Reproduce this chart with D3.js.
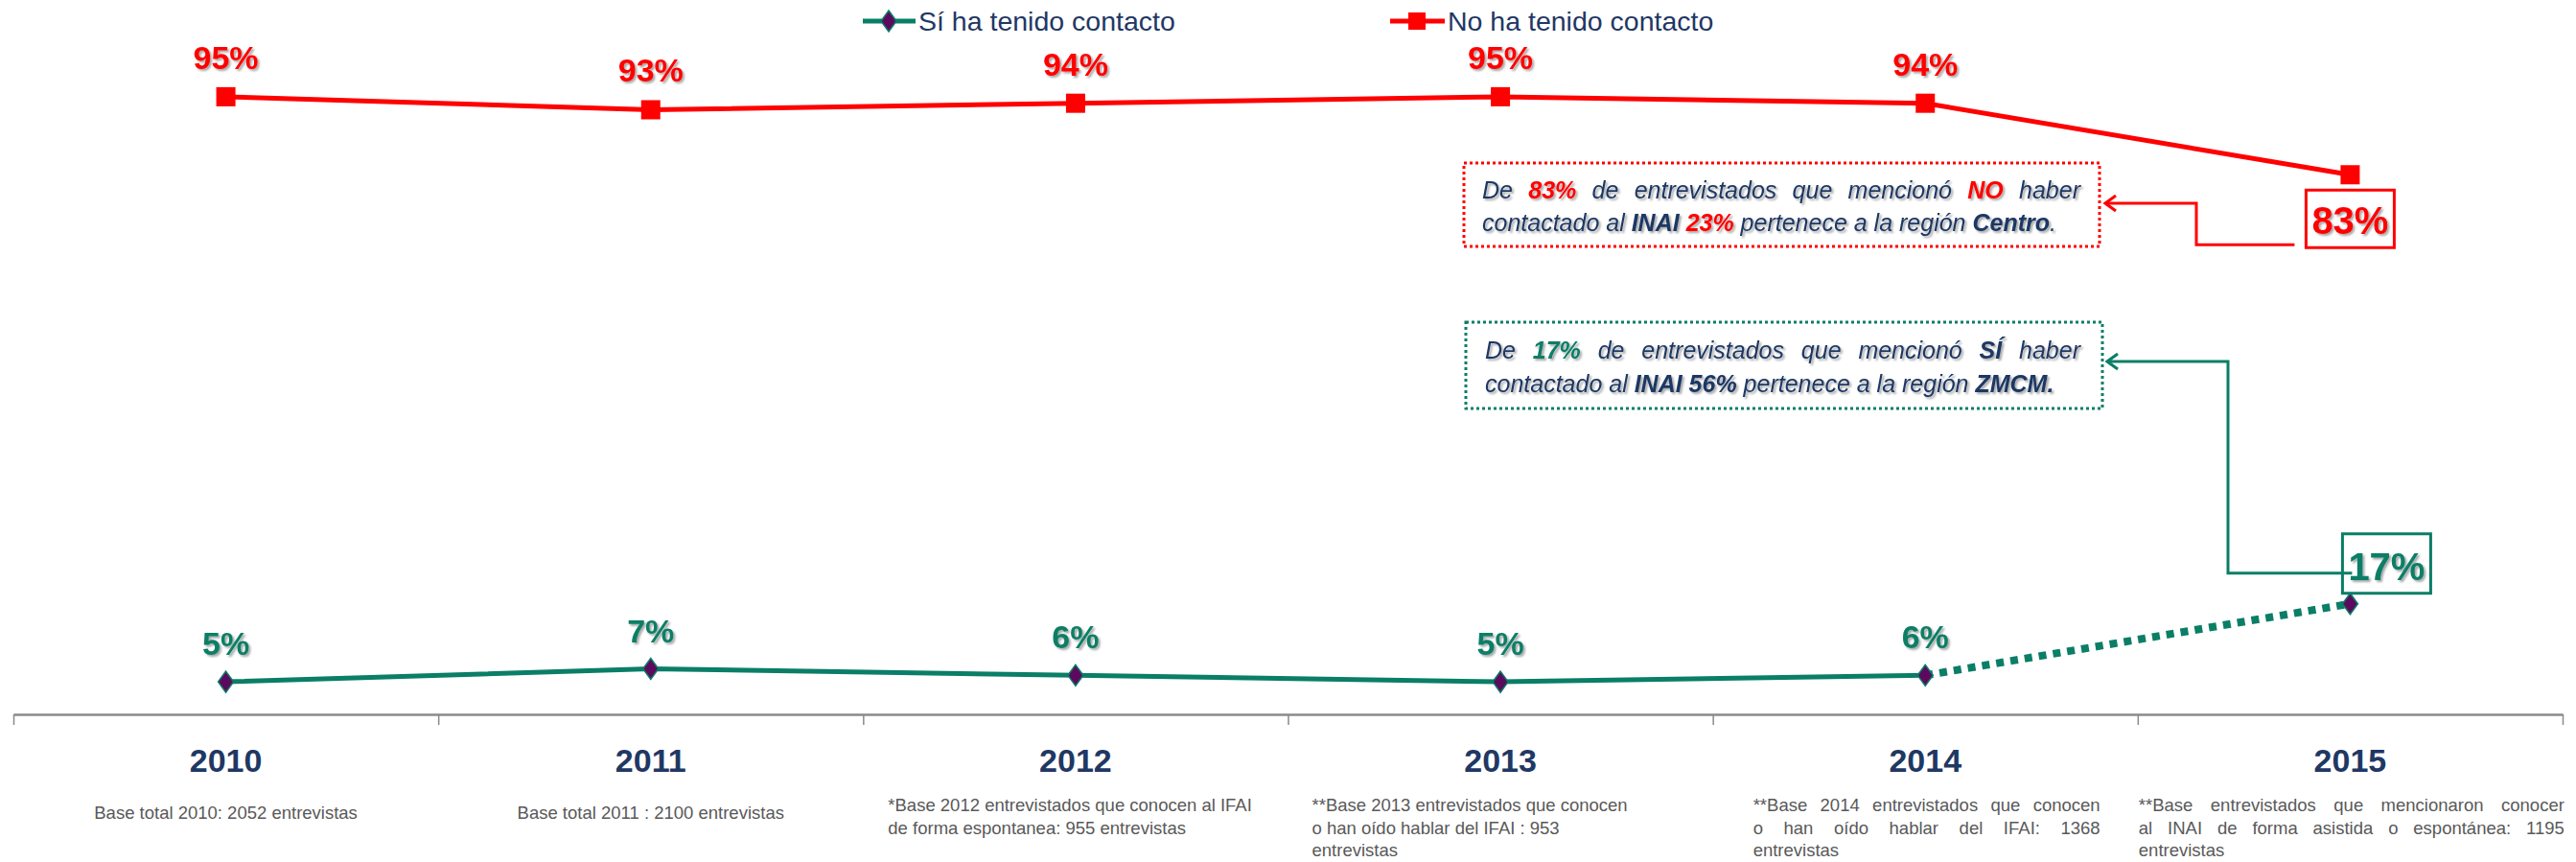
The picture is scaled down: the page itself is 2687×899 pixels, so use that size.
<!DOCTYPE html>
<html>
<head>
<meta charset="utf-8">
<script src="https://cdn.jsdelivr.net/npm/d3@7"></script>
<style>
html, body { margin: 0; padding: 0; background: #fff; }
svg { display: block; font-family: "Liberation Sans", Arial, sans-serif; }
</style>
</head>
<body>
<div id="visual"></div>
<script>

///// DATA /////
var years = ["2010", "2011", "2012", "2013", "2014", "2015"];
var siContacto = [5, 7, 6, 5, 6, 17];
var noContacto = [95, 93, 94, 95, 94, 83];
var seriesNames = ["Sí ha tenido contacto", "No ha tenido contacto"];

var baseNotes = [
	["Base total 2010: 2052 entrevistas"],
	["Base total 2011 : 2100 entrevistas"],
	["*Base 2012 entrevistados que conocen al IFAI", "de forma espontanea: 955 entrevistas"],
	["**Base 2013 entrevistados que conocen", "o han oído hablar del IFAI : 953", "entrevistas"],
	["**Base 2014 entrevistados que conocen", "o han oído hablar del IFAI: 1368", "entrevistas"],
	["**Base entrevistados que mencionaron conocer", "al INAI de forma asistida o espontánea: 1195", "entrevistas"]
];

// annotation text, split into runs: [text, kind]
var noteNo = [
	[["De ", "t"], ["83%", "r"], [" de entrevistados que mencionó ", "t"], ["NO", "r"], [" haber", "t"]],
	[["contactado al ", "t"], ["INAI", "b"], [" ", "t"], ["23%", "r"], [" pertenece a la región ", "t"], ["Centro", "b"], [".", "t"]]
];
var noteSi = [
	[["De ", "t"], ["17%", "g"], [" de entrevistados que mencionó ", "t"], ["SÍ", "b"], [" haber", "t"]],
	[["contactado al ", "t"], ["INAI 56%", "b"], [" pertenece a la región ", "t"], ["ZMCM.", "b"]]
];

///// DIMENSIONS /////
var W = 2687, H = 899;
var axisY = 745, axisLeft = 14, axisRight = 2673;

var GREEN = "#0a7e66", RED = "#ff0000", PURPLE = "#5c0a5e", NAVY = "#1f3864", GRAY = "#595959";

var x = d3.scaleBand().domain(years).range([axisLeft, axisRight]);
var xEdge = d3.scaleLinear().domain([0, years.length]).range([axisLeft, axisRight]);
var y = d3.scaleLinear().domain([0, 100]).range([axisY, 67]);
var cx = function(i) { return x(years[i]) + x.bandwidth() / 2; };

var svg = d3.select("#visual").append("svg")
	.attr("width", W).attr("height", H);

///// DEFS /////
var defs = svg.append("defs");
defs.append("filter").attr("id", "shadow")
	.attr("x", "-20%").attr("y", "-30%").attr("width", "140%").attr("height", "160%")
	.append("feDropShadow")
	.attr("dx", 2).attr("dy", 2).attr("stdDeviation", 1.3)
	.attr("flood-color", "#000").attr("flood-opacity", 0.35);

[["arrow-red", RED], ["arrow-green", GREEN]].forEach(function(a) {
	defs.append("marker").attr("id", a[0])
		.attr("viewBox", "-14 -10 16 20")
		.attr("refX", 0).attr("refY", 0)
		.attr("markerWidth", 16).attr("markerHeight", 20)
		.attr("markerUnits", "userSpaceOnUse")
		.attr("orient", "auto")
		.append("path")
		.attr("d", "M-11,-8 L0,0 L-11,8")
		.attr("fill", "none").attr("stroke", a[1]).attr("stroke-width", 3);
});

///// AXIS /////
var axisG = svg.append("g")
	.attr("transform", "translate(0," + axisY + ")")
	.call(d3.axisBottom(xEdge)
		.tickValues(d3.range(years.length + 1))
		.tickFormat("")
		.tickSizeInner(11).tickSizeOuter(0));
axisG.select(".domain").attr("stroke", "#8a8a8a").attr("stroke-width", 2.5);
axisG.selectAll(".tick line").attr("stroke", "#8a8a8a").attr("stroke-width", 1.5);

svg.append("g").selectAll("text")
	.data(years).enter().append("text")
	.attr("x", function(d, i) { return cx(i); })
	.attr("y", 805)
	.attr("text-anchor", "middle")
	.attr("font-size", 34).attr("font-weight", "bold")
	.attr("fill", NAVY)
	.text(function(d) { return d; });

///// BASE NOTES /////
// per column: alignment, left offset inside band, justified width
var noteLayout = [
	{ align: "middle" }, { align: "middle" },
	{ align: "start", dx: 26 }, { align: "start", dx: 25 },
	{ align: "justify", dx: 42, w: 362 }, { align: "justify", dx: 1, w: 444 }
];

function justify(sel, target) {
	var node = sel.node();
	var natural = node.getComputedTextLength();
	var spaces = (sel.text().match(/ /g) || []).length;
	if (spaces > 0 && target > natural) sel.attr("word-spacing", (target - natural) / spaces);
}

baseNotes.forEach(function(lines, i) {
	var lay = noteLayout[i];
	var single = lines.length === 1;
	lines.forEach(function(line, j) {
		var t = svg.append("text")
			.attr("font-size", 18.5).attr("fill", GRAY)
			.attr("y", (single ? 854 : 846) + j * 23.5)
			.text(line);
		if (lay.align === "middle") {
			t.attr("x", cx(i)).attr("text-anchor", "middle");
		} else {
			t.attr("x", x(years[i]) + lay.dx);
			if (lay.align === "justify" && j < lines.length - 1) justify(t, lay.w);
		}
	});
});

///// LINES /////
var line = d3.line()
	.x(function(d) { return cx(d.i); })
	.y(function(d) { return y(d.v); });

var noPts = noContacto.map(function(v, i) { return { i: i, v: v }; });
var siPts = siContacto.map(function(v, i) { return { i: i, v: v }; });

svg.append("path").datum(noPts)
	.attr("d", line).attr("fill", "none")
	.attr("stroke", RED).attr("stroke-width", 5);

svg.append("path").datum(siPts.slice(0, 5))
	.attr("d", line).attr("fill", "none")
	.attr("stroke", GREEN).attr("stroke-width", 5);

svg.append("path").datum(siPts.slice(4))
	.attr("d", line).attr("fill", "none")
	.attr("stroke", GREEN).attr("stroke-width", 8)
	.attr("stroke-dasharray", "8,7");

svg.append("g").selectAll("rect")
	.data(noPts).enter().append("rect")
	.attr("x", function(d) { return cx(d.i) - 10; })
	.attr("y", function(d) { return y(d.v) - 10; })
	.attr("width", 20).attr("height", 20)
	.attr("fill", RED);

var diamond = "M0,-11 L8,0 L0,11 L-8,0 Z";
svg.append("g").selectAll("path")
	.data(siPts).enter().append("path")
	.attr("d", diamond)
	.attr("transform", function(d) { return "translate(" + cx(d.i) + "," + y(d.v) + ")"; })
	.attr("fill", PURPLE).attr("stroke", GREEN).attr("stroke-width", 1.5);

///// DATA LABELS /////
svg.append("g").selectAll("text")
	.data(noPts.slice(0, 5)).enter().append("text")
	.attr("x", function(d) { return cx(d.i); })
	.attr("y", function(d) { return y(d.v) - 29; })
	.attr("text-anchor", "middle")
	.attr("font-size", 34).attr("font-weight", "bold")
	.attr("fill", RED).attr("filter", "url(#shadow)")
	.text(function(d) { return d.v + "%"; });

svg.append("g").selectAll("text")
	.data(siPts.slice(0, 5)).enter().append("text")
	.attr("x", function(d) { return cx(d.i); })
	.attr("y", function(d) { return y(d.v) - 28; })
	.attr("text-anchor", "middle")
	.attr("font-size", 34).attr("font-weight", "bold")
	.attr("fill", GREEN).attr("filter", "url(#shadow)")
	.text(function(d) { return d.v + "%"; });

// boxed last values
var lastNo = noPts[5], lastSi = siPts[5];
svg.append("rect")
	.attr("x", cx(5) - 46).attr("y", y(lastNo.v) + 16)
	.attr("width", 92).attr("height", 60)
	.attr("fill", "#fff").attr("stroke", RED).attr("stroke-width", 3);
svg.append("text")
	.attr("x", cx(5)).attr("y", y(lastNo.v) + 62)
	.attr("text-anchor", "middle")
	.attr("font-size", 40).attr("font-weight", "bold")
	.attr("fill", RED).attr("filter", "url(#shadow)")
	.text(lastNo.v + "%");

///// CONNECTORS /////
svg.append("path")
	.attr("d", "M" + (cx(5) - 58) + "," + (y(lastNo.v) + 73) + " H2291 V212 H2196")
	.attr("fill", "none").attr("stroke", RED).attr("stroke-width", 3)
	.attr("marker-end", "url(#arrow-red)");

svg.append("path")
	.attr("d", "M" + (cx(5) + 2) + "," + (y(lastSi.v) - 32) + " H2324 V377 H2198")
	.attr("fill", "none").attr("stroke", GREEN).attr("stroke-width", 3)
	.attr("marker-end", "url(#arrow-green)");

svg.append("rect")
	.attr("x", cx(5) - 8).attr("y", y(lastSi.v) - 73)
	.attr("width", 92).attr("height", 62)
	.attr("fill", "none").attr("stroke", GREEN).attr("stroke-width", 3);
svg.append("text")
	.attr("x", cx(5) + 38).attr("y", y(lastSi.v) - 25)
	.attr("text-anchor", "middle")
	.attr("font-size", 40).attr("font-weight", "bold")
	.attr("fill", GREEN).attr("filter", "url(#shadow)")
	.text(lastSi.v + "%");

///// ANNOTATION BOXES /////
var runColor = { t: NAVY, b: NAVY, r: RED, g: GREEN };

function noteBox(lines, bx, by, bw, bh, stroke, tx, baselines, jw) {
	svg.append("rect")
		.attr("x", bx).attr("y", by).attr("width", bw).attr("height", bh)
		.attr("fill", "#fff").attr("stroke", stroke)
		.attr("stroke-width", 3).attr("stroke-dasharray", "3,3");
	lines.forEach(function(runs, j) {
		var t = svg.append("text")
			.attr("x", tx).attr("y", baselines[j])
			.attr("font-size", 25).attr("font-style", "italic")
			.attr("fill", NAVY).attr("filter", "url(#shadow)")
			.attr("xml:space", "preserve");
		runs.forEach(function(r) {
			t.append("tspan")
				.attr("fill", runColor[r[1]])
				.attr("font-weight", r[1] === "t" ? "normal" : "bold")
				.text(r[0]);
		});
		if (j < lines.length - 1) justify(t, jw);
	});
}

noteBox(noteNo, 1527, 170, 663, 87, RED, 1546, [207, 241], 624);
noteBox(noteSi, 1529, 336, 664, 90, GREEN, 1549, [374, 409], 621);

///// LEGEND /////
var legend = svg.append("g");
legend.append("line").attr("x1", 900).attr("x2", 955).attr("y1", 22).attr("y2", 22)
	.attr("stroke", GREEN).attr("stroke-width", 5);
legend.append("path").attr("d", diamond)
	.attr("transform", "translate(927,22)")
	.attr("fill", PURPLE).attr("stroke", GREEN).attr("stroke-width", 1.5);
legend.append("line").attr("x1", 1450).attr("x2", 1507).attr("y1", 22).attr("y2", 22)
	.attr("stroke", RED).attr("stroke-width", 5);
legend.append("rect").attr("x", 1469).attr("y", 13).attr("width", 18).attr("height", 18)
	.attr("fill", RED);

legend.selectAll("text")
	.data(seriesNames).enter().append("text")
	.attr("x", function(d, i) { return i === 0 ? 958 : 1510; })
	.attr("y", 32)
	.attr("font-size", 28.5).attr("fill", NAVY)
	.text(function(d) { return d; });

</script>
</body>
</html>
